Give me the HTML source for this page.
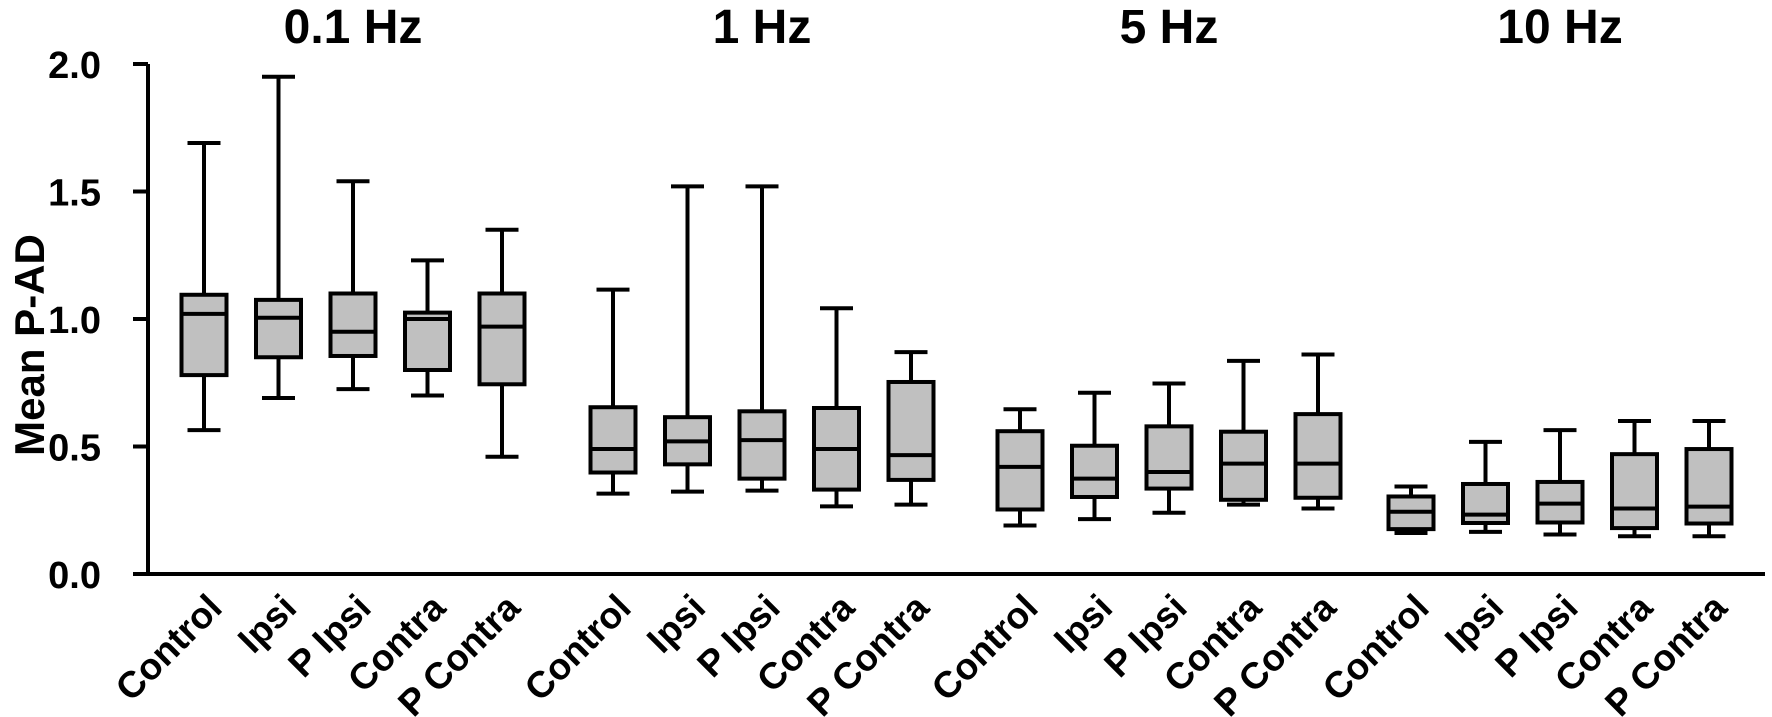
<!DOCTYPE html>
<html><head><meta charset="utf-8">
<style>
html,body{margin:0;padding:0;background:#fff;}
svg{display:block;font-family:"Liberation Sans",Arial,sans-serif;font-weight:bold;}
</style></head>
<body>
<svg id="chart" width="1772" height="717" viewBox="0 0 1772 717" xmlns="http://www.w3.org/2000/svg">
<g id="axes"></g>
<g id="plot"></g>
</svg>
<script>
const groups = ["0.1 Hz", "1 Hz", "5 Hz", "10 Hz"];
const conditions = ["Control", "Ipsi", "P Ipsi", "Contra", "P Contra"];
const yTicks = [0, 0.5, 1.0, 1.5, 2.0];
const yTickLabels = ["0.0", "0.5", "1.0", "1.5", "2.0"];
// per group, per condition: [min, q1, median, q3, max]
const stats01 = [[0.564,0.78,1.02,1.095,1.69],[0.69,0.85,1.005,1.075,1.95],[0.725,0.855,0.95,1.10,1.54],[0.70,0.80,1.00,1.025,1.23],[0.46,0.744,0.97,1.10,1.35]];
const stats1  = [[0.315,0.398,0.49,0.654,1.115],[0.323,0.43,0.52,0.615,1.52],[0.327,0.374,0.525,0.638,1.52],[0.265,0.331,0.49,0.651,1.042],[0.272,0.369,0.466,0.753,0.87]];
const stats5  = [[0.19,0.253,0.42,0.56,0.646],[0.215,0.302,0.374,0.503,0.711],[0.24,0.335,0.40,0.579,0.747],[0.272,0.291,0.433,0.558,0.836],[0.257,0.299,0.433,0.627,0.861]];
const stats10 = [[0.161,0.176,0.244,0.304,0.343],[0.165,0.20,0.233,0.353,0.518],[0.155,0.202,0.276,0.361,0.564],[0.148,0.18,0.257,0.47,0.60],[0.148,0.198,0.264,0.49,0.60]];
const allStats = [stats01, stats1, stats5, stats10];

const NS = "http://www.w3.org/2000/svg";
const y0 = 574, pxPerUnit = 255, axisX = 148, axisEnd = 1765;
const groupStart = [204, 613, 1020, 1411], step = 74.5, boxW = 45, capW = 33;
function yScale(v){ return y0 - v * pxPerUnit; }
function xScale(g, c){ return groupStart[g] + c * step; }
function mk(tag, attrs, parent){
  const e = document.createElementNS(NS, tag);
  for (const k in attrs) e.setAttribute(k, attrs[k]);
  parent.appendChild(e); return e;
}
const axes = document.getElementById('axes');
const plot = document.getElementById('plot');

let yl = mk('line', {x1:axisX, y1:yScale(2.0), x2:axisX, y2:y0+2, stroke:'#000','stroke-width':4}, axes);


let xl = mk('line', {x1:axisX-15, y1:y0, x2:axisEnd, y2:y0, stroke:'#000','stroke-width':4}, axes);


yTicks.forEach((t, i) => {
  const ty = yScale(t);
  const tk = mk('line', {x1:axisX-15, y1:ty, x2:axisX, y2:ty, stroke:'#000','stroke-width':4}, axes);
  
  
  const tl = mk('text', {x:101, y:ty+14, 'text-anchor':'end', 'font-size':38}, axes);
  tl.textContent = yTickLabels[i];
  
  
});
const yt = mk('text', {x:0, y:0, 'text-anchor':'middle', 'font-size':42, transform:'translate(44,345) rotate(-90)'}, axes);
yt.textContent = 'Mean P-AD';



allStats.forEach((gs, g) => {
  const gt = mk('text', {x:xScale(g,2), y:43, 'text-anchor':'middle', 'font-size':48}, axes);
  gt.textContent = groups[g];
  
  
  gs.forEach((s, c) => {
    const cx = xScale(g, c);
    const grp = mk('g', {}, plot);
    
    
    const st = {stroke:'#000','stroke-width':4};
    mk('line', Object.assign({x1:cx, y1:yScale(s[4]), x2:cx, y2:yScale(s[3])}, st), grp);
    mk('line', Object.assign({x1:cx, y1:yScale(s[1]), x2:cx, y2:yScale(s[0])}, st), grp);
    mk('line', Object.assign({x1:cx-capW/2, y1:yScale(s[4]), x2:cx+capW/2, y2:yScale(s[4])}, st), grp);
    mk('line', Object.assign({x1:cx-capW/2, y1:yScale(s[0]), x2:cx+capW/2, y2:yScale(s[0])}, st), grp);
    mk('rect', Object.assign({x:cx-boxW/2, y:yScale(s[3]), width:boxW, height:yScale(s[1])-yScale(s[3]), fill:'#c0c0c0'}, st), grp);
    mk('line', Object.assign({x1:cx-boxW/2, y1:yScale(s[2]), x2:cx+boxW/2, y2:yScale(s[2])}, st), grp);
    const lab = mk('text', {x:0, y:0, 'text-anchor':'end', 'font-size':37, transform:'translate('+(cx+20)+','+(y0+36)+') rotate(-45)'}, axes);
    lab.textContent = conditions[c];
    
    
  });
});
</script>
</body></html>
